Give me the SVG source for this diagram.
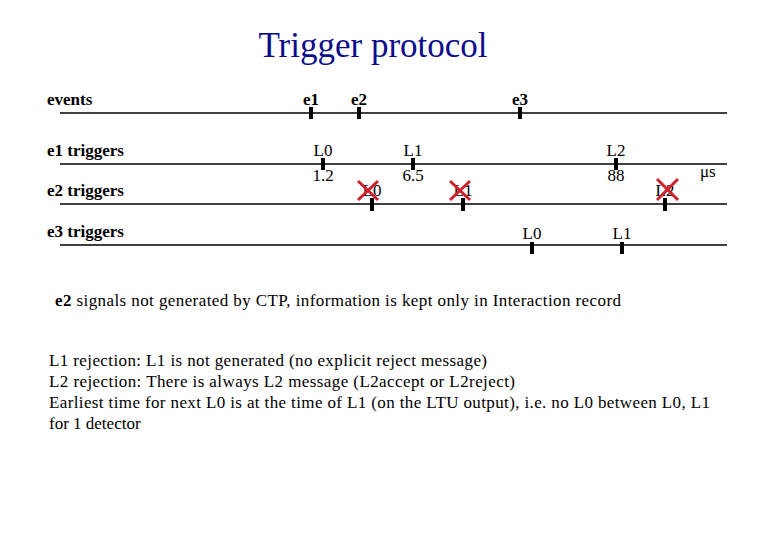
<svg xmlns="http://www.w3.org/2000/svg" width="780" height="540" viewBox="0 0 780 540">
<style>
text{font-family:'Liberation Serif','Times New Roman',serif;fill:#000}
.b{font-weight:bold;font-size:17px}
.r{font-size:17px}
.lab{font-size:17px;text-anchor:middle}
.ln{stroke:#000;stroke-width:1.3}
.tk{stroke:#000;stroke-width:4}
.x{stroke:#d0202e;stroke-width:3;stroke-linecap:butt}
</style>
<rect width="780" height="540" fill="#fff"/>
<text x="373" y="57" text-anchor="middle" style="font-size:35px;fill:#0c0c8c">Trigger protocol</text>
<g id="row-labels" font-family="Liberation Serif, serif">
<text class="b" x="47" y="105">events</text>
<text class="b" x="47" y="156">e1 triggers</text>
<text class="b" x="47" y="196">e2 triggers</text>
<text class="b" x="47" y="237">e3 triggers</text>
</g>
<g id="timelines">
<line class="ln" x1="60" y1="113" x2="727" y2="113"/>
<line class="ln" x1="60" y1="164" x2="727" y2="164"/>
<line class="ln" x1="60" y1="204" x2="727" y2="204"/>
<line class="ln" x1="60" y1="245" x2="727" y2="245"/>
</g>
<g id="events">
<g id="e1"><line class="tk" x1="311" y1="107" x2="311" y2="119"/><text class="b" x="311" y="105" text-anchor="middle">e1</text></g>
<g id="e2"><line class="tk" x1="359" y1="107" x2="359" y2="119"/><text class="b" x="359" y="105" text-anchor="middle">e2</text></g>
<g id="e3"><line class="tk" x1="520" y1="107" x2="520" y2="119"/><text class="b" x="520" y="105" text-anchor="middle">e3</text></g>
</g>
<g id="e1-triggers">
<g id="e1-L0"><line class="tk" x1="323" y1="158" x2="323" y2="170"/><text class="lab" x="323" y="156">L0</text><text class="lab" x="323" y="181">1.2</text></g>
<g id="e1-L1"><line class="tk" x1="413" y1="158" x2="413" y2="170"/><text class="lab" x="413" y="156">L1</text><text class="lab" x="413" y="181">6.5</text></g>
<g id="e1-L2"><line class="tk" x1="616" y1="158" x2="616" y2="170"/><text class="lab" x="616" y="156">L2</text><text class="lab" x="616" y="181">88</text></g>
<text class="r" x="700" y="177">μs</text>
</g>
<g id="e2-triggers">
<g id="e2-L0"><line class="tk" x1="372" y1="198" x2="372" y2="211"/><text class="lab" x="372" y="196">L0</text><path class="x" d="M358 181 L378 200 M378 181 L358 200"/></g>
<g id="e2-L1"><line class="tk" x1="463" y1="198" x2="463" y2="211"/><text class="lab" x="463" y="196">L1</text><path class="x" d="M450 181 L470 200 M470 181 L450 200"/></g>
<g id="e2-L2"><line class="tk" x1="665" y1="198" x2="665" y2="211"/><text class="lab" x="665" y="196">L2</text><path class="x" d="M657 179 L678 200 M678 179 L657 200"/></g>
</g>
<g id="e3-triggers">
<g id="e3-L0"><line class="tk" x1="532" y1="242" x2="532" y2="254"/><text class="lab" x="532" y="239">L0</text></g>
<g id="e3-L1"><line class="tk" x1="622" y1="242" x2="622" y2="254"/><text class="lab" x="622" y="239">L1</text></g>
</g>
<g id="notes">
<text class="r" x="55" y="306" textLength="566" lengthAdjust="spacing"><tspan font-weight="bold">e2</tspan> signals not generated by CTP, information is kept only in Interaction record</text>
<text class="r" x="49" y="366" textLength="438" lengthAdjust="spacing">L1 rejection: L1 is not generated (no explicit reject message)</text>
<text class="r" x="49" y="387" textLength="466" lengthAdjust="spacing">L2 rejection: There is always L2 message (L2accept or L2reject)</text>
<text class="r" x="49" y="408" textLength="661" lengthAdjust="spacing">Earliest time for next L0 is at the time of L1 (on the LTU output), i.e. no L0 between L0, L1</text>
<text class="r" x="49" y="429">for 1 detector</text>
</g>
</svg>
